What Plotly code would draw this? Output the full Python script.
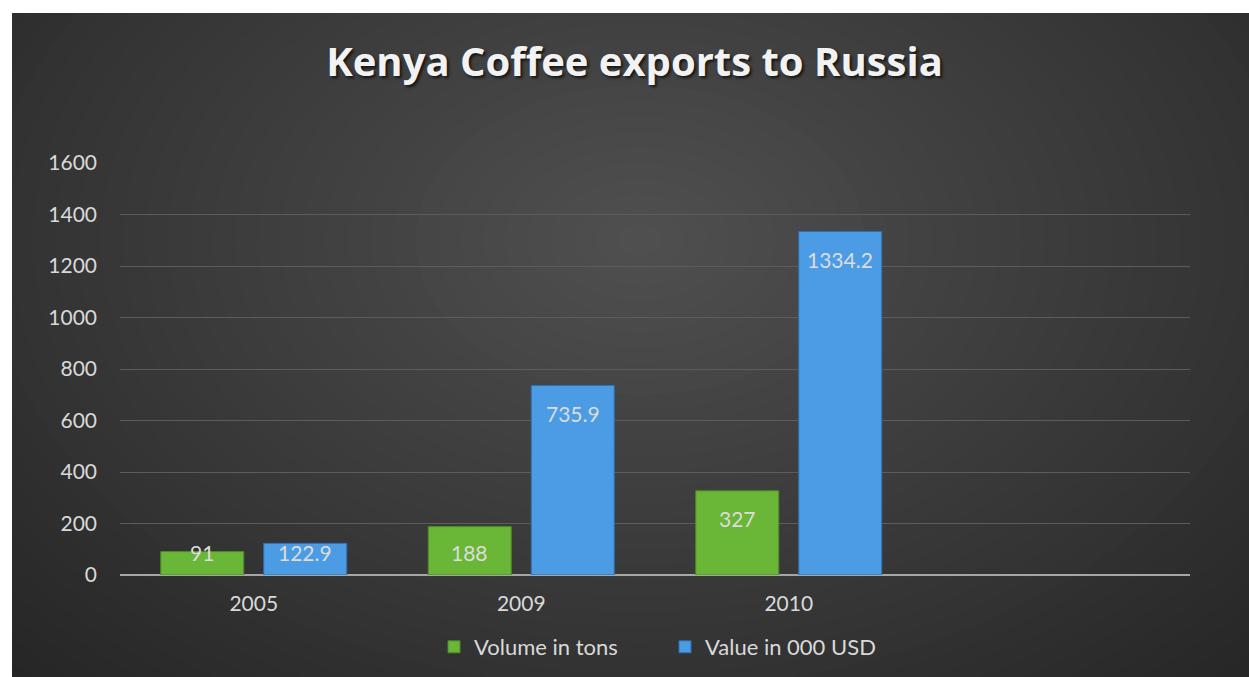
import plotly.graph_objects as go

# Kenya coffee exports to Russia
years = ["2005", "2009", "2010"]
volume_tons = [91, 188, 327]
value_kusd = [122.9, 735.9, 1334.2]
y_ticks = [0, 200, 400, 600, 800, 1000, 1200, 1400, 1600]

W, H = 1249, 677
ML, MR, MT, MB = 120, 59, 163, 102
PW, PH = W - ML - MR, H - MT - MB
Y_MAX = 1600
UNITS_PER_PX = Y_MAX / PH


def px_x(px):
    return (px - ML) / PW


def px_y(py):
    return (H - MB - py) / PH


label_font = dict(family="Lato, Open Sans, sans-serif", size=21, color="#dcdcdc")
tick_font = dict(family="Lato, Open Sans, sans-serif", size=21, color="#d9d9d9")

fig = go.Figure()
fig.add_trace(go.Bar(
    name="Volume in tons", x=years, y=volume_tons,
    marker=dict(color="#6ab636", line=dict(color="#4e8a24", width=1)),
))
fig.add_trace(go.Bar(
    name="Value in 000 USD", x=years, y=value_kusd,
    marker=dict(color="#4b9ce4", line=dict(color="#2f6fae", width=1)),
))

# value labels: inside the top of each bar, kept above the axis on short bars
label_drop = 28 * UNITS_PER_PX
label_floor = 23 * UNITS_PER_PX
annotations = []
for values, shift in ((volume_tons, -51.5), (value_kusd, 51.5)):
    for idx, v in enumerate(values):
        annotations.append(dict(
            x=idx, y=max(v - label_drop, label_floor), xref="x", yref="y",
            text=str(v), showarrow=False, xshift=shift,
            xanchor="center", yanchor="middle", font=label_font))

# Soft radial shading for the dark chart background
shapes = [dict(type="rect", xref="paper", yref="paper",
               x0=px_x(0), x1=px_x(W), y0=px_y(H), y1=px_y(0),
               fillcolor="#262626", line=dict(width=0), layer="below")]
cx, cy = 640, 240
n = 40
rx_max, ry_max = 900, 620
for i in range(n):
    t = i / n
    rx, ry = rx_max * (1 - t), ry_max * (1 - t)
    g = int(round(38 + (80 - 38) * t))
    shapes.append(dict(type="circle", xref="paper", yref="paper",
                       x0=px_x(cx - rx), x1=px_x(cx + rx),
                       y0=px_y(cy + ry), y1=px_y(cy - ry),
                       fillcolor=f"rgb({g},{g},{g})", line=dict(width=0),
                       layer="below"))
# white page edge around the chart
shapes.append(dict(type="rect", xref="paper", yref="paper",
                   x0=px_x(-5), x1=px_x(12), y0=px_y(H + 5), y1=px_y(-5),
                   fillcolor="white", line=dict(width=0), layer="below"))
shapes.append(dict(type="rect", xref="paper", yref="paper",
                   x0=px_x(-5), x1=px_x(W + 5), y0=px_y(13), y1=px_y(-5),
                   fillcolor="white", line=dict(width=0), layer="below"))

fig.update_layout(
    width=W, height=H,
    margin=dict(l=ML, r=MR, t=MT, b=MB, autoexpand=False),
    paper_bgcolor="#262626", plot_bgcolor="rgba(0,0,0,0)",
    barmode="group", bargap=0.23, bargroupgap=0.194,
    shapes=shapes, annotations=annotations,
    title=dict(text="<b>Kenya Coffee exports to Russia</b>",
               x=0.508, xanchor="center", y=1 - 62 / H, yanchor="middle",
               font=dict(family="Open Sans, sans-serif", size=40, color="#f2f2f2",
                         shadow="2px 2px 3px rgba(0,0,0,0.7)")),
    xaxis=dict(type="category", categoryorder="array", categoryarray=years,
               range=[-0.5, 3.5], showgrid=False, showline=False, ticks="",
               tickfont=tick_font, ticklabelstandoff=14, automargin=False),
    yaxis=dict(range=[0, Y_MAX], tickvals=y_ticks, showgrid=True,
               gridcolor="#5c5c5c", gridwidth=1, zeroline=True,
               zerolinecolor="#a6a6a6", zerolinewidth=2, showline=False,
               tickfont=tick_font, ticklabelstandoff=22, automargin=False),
    legend=dict(orientation="h", x=px_x(434), xanchor="left", y=px_y(647),
                yanchor="middle", bgcolor="rgba(0,0,0,0)",
                font=dict(family="Lato, Open Sans, sans-serif", size=22, color="#d9d9d9"),
                itemwidth=30, entrywidth=186, traceorder="normal"),
    showlegend=True,
)

fig.write_html("out.html")
